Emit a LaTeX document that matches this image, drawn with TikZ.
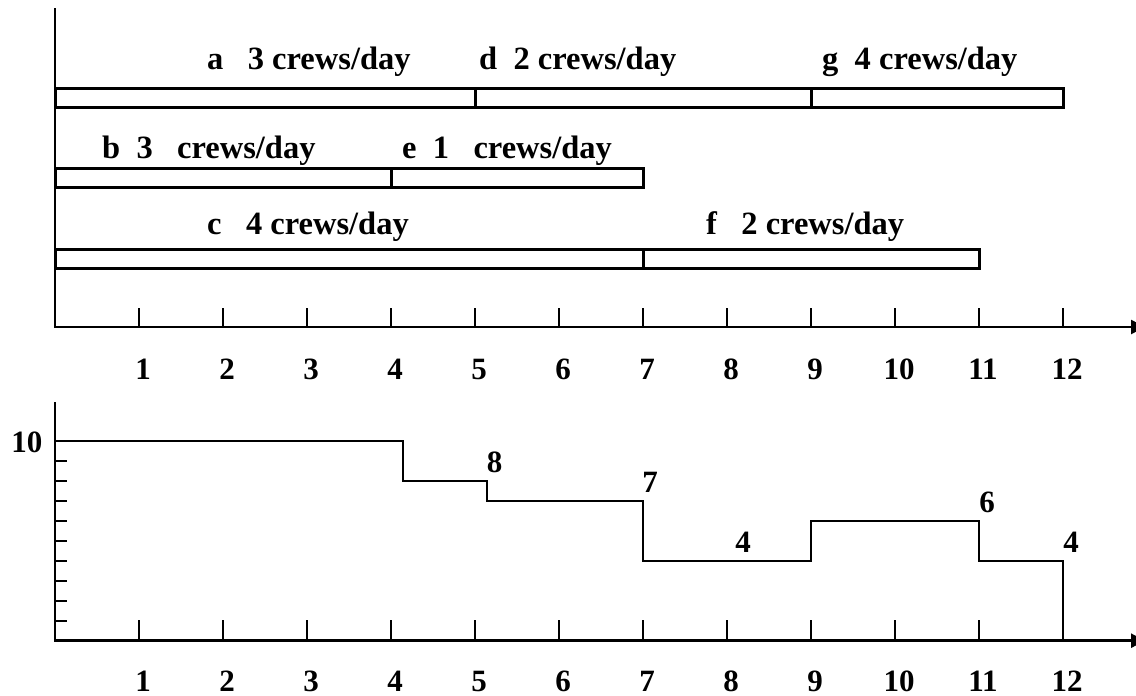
\documentclass[tikz,border=0pt]{standalone}
\usepackage{fontspec}
\setmainfont{Liberation Serif}
\usetikzlibrary{arrows.meta}
\begin{document}
\begin{tikzpicture}[x=1pt,y=-1pt,
  lbl/.style={font=\fontsize{32.5}{36}\selectfont\bfseries, inner sep=0pt, anchor=base west},
  num/.style={font=\fontsize{31}{36}\selectfont\bfseries, inner sep=0pt, anchor=base},
  axisline/.style={line width=2.6pt, -{Triangle[length=14pt,width=14pt]}},
  bar/.style={line width=3pt},
  tickmark/.style={line width=2pt},
  prof/.style={line width=2.2pt}]
\useasboundingbox (0,0) rectangle (1136,696);
% ---------- top chart ----------
\draw[axisline] (55,8) -- (55,327) -- (1145,327);
\foreach \i in {1,...,12}{
  \draw[tickmark] ({55+84*\i},308) -- ({55+84*\i},327);
  \node[num] (tn\i) at ({59+84*\i},379) {\i};
}
% bars
\draw[bar] (55,88) rectangle (475,107);
\draw[bar] (475,88) rectangle (811,107);
\draw[bar] (811,88) rectangle (1063,107);
\draw[bar] (55,168) rectangle (391,187);
\draw[bar] (391,168) rectangle (643,187);
\draw[bar] (55,249) rectangle (643,268);
\draw[bar] (643,249) rectangle (979,268);
% bar labels
\node[lbl] (la) at (207,69) {a\ \ \ 3 crews/day};
\node[lbl] (ld) at (479,69) {d\ \ 2 crews/day};
\node[lbl] (lg) at (822,69) {g\ \ 4 crews/day};
\node[lbl] (lb) at (102,158) {b\ \ 3\ \ \ crews/day};
\node[lbl] (le) at (402,158) {e\ \ 1\ \ \ crews/day};
\node[lbl] (lc) at (207,234) {c\ \ \ 4 crews/day};
\node[lbl] (lf) at (706,234) {f\ \ \ 2 crews/day};
% ---------- bottom chart ----------
\draw[axisline] (55,402) -- (55,640.7) -- (1145,640.7);
\foreach \i in {1,...,11}{
  \draw[tickmark] ({55+84*\i},620) -- ({55+84*\i},640.7);
}
\foreach \i in {1,...,12}{
  \node[num] (bn\i) at ({59+84*\i},691) {\i};
}
\foreach \k in {1,...,9}{
  \draw[tickmark] (55,{640.7-20*\k}) -- (67,{640.7-20*\k});
}
\node[num] (y10) at (27,452) {10};
\draw[prof] (55,440.7) -- (403,440.7) -- (403,480.7) -- (487,480.7) -- (487,500.7)
  -- (643,500.7) -- (643,560.7) -- (811,560.7) -- (811,520.7) -- (979,520.7)
  -- (979,560.7) -- (1063,560.7) -- (1063,640.7);
\node[num] (v8) at (494.5,472) {8};
\node[num] (v7) at (650,492) {7};
\node[num] (v4a) at (743,552) {4};
\node[num] (v6) at (987,512) {6};
\node[num] (v4b) at (1071,552) {4};
\end{tikzpicture}
\end{document}
